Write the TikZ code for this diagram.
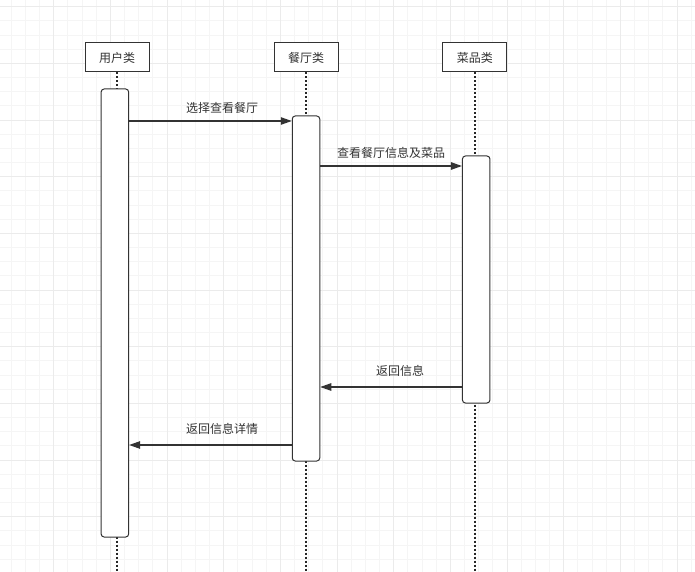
\documentclass[tikz,border=0pt]{standalone}
\usepackage{fontspec}
\setmainfont{Noto Sans CJK SC}
\usetikzlibrary{arrows.meta}
\definecolor{ink}{HTML}{333333}
\definecolor{gridminor}{HTML}{F5F5F5}
\definecolor{gridmajor}{HTML}{EBEBEB}
\tikzset{
  header/.style={draw=ink, line width=1pt, fill=white, rectangle, minimum width=64pt, minimum height=29pt, inner sep=0pt, font=\fontsize{12}{14}\selectfont, text=ink},
  actbar/.style={draw=ink, line width=1pt, fill=white, rectangle, rounded corners=3pt, minimum width=27.5pt, inner sep=0pt},
  lifeline/.style={draw=black!85, line width=1.6pt, dash pattern=on 2pt off 2pt},
  msg/.style={draw=ink, line width=1.1pt, -{Triangle[length=11pt,width=7.5pt]}},
  msglabel/.style={font=\fontsize{12}{14}\selectfont, text=ink, inner sep=0pt},
}
\begin{document}
\begin{tikzpicture}[x=1pt,y=-1pt]
\useasboundingbox (0,0) rectangle (695,572);
\fill[white] (0,0) rectangle (695,572);
% grid
\foreach \i in {0,...,48} {
  \draw[gridminor, line width=1pt] ({11.3+14.167*\i},0) -- ({11.3+14.167*\i},572);
}
\foreach \i in {0,...,40} {
  \draw[gridminor, line width=1pt] (0,{6.67+14.167*\i}) -- (695,{6.67+14.167*\i});
}
\foreach \i in {0,...,12} {
  \draw[gridmajor, line width=1pt] ({53.8+56.667*\i},0) -- ({53.8+56.667*\i},572);
}
\foreach \i in {0,...,10} {
  \draw[gridmajor, line width=1pt] (0,{6.67+56.667*\i}) -- (695,{6.67+56.667*\i});
}
% headers
\node[header] (u) at (117,57.5) {用户类};
\node[header] (r) at (306,57.5) {餐厅类};
\node[header] (d) at (474.9,57.5) {菜品类};
% lifeline ends
\coordinate (uend) at (117,572);
\coordinate (rend) at (306,572);
\coordinate (dend) at (474.9,572);
\draw[lifeline] (u.south) -- (uend);
\draw[lifeline] (r.south) -- (rend);
\draw[lifeline] (d.south) -- (dend);
% activation bars
\node[actbar, minimum height=448pt] (ubar) at (114.9,313) {};
\node[actbar, minimum height=345pt] (rbar) at (306,288.5) {};
\node[actbar, minimum height=247pt] (dbar) at (476.2,279.5) {};
% message rows
\coordinate (m1) at (0,121);
\coordinate (m2) at (0,166);
\coordinate (m3) at (0,387);
\coordinate (m4) at (0,445);
\draw[msg] (ubar.east |- m1) -- (rbar.west |- m1);
\draw[msg] (rbar.east |- m2) -- (dbar.west |- m2);
\draw[msg] (dbar.west |- m3) -- (rbar.east |- m3);
\draw[msg] (rbar.west |- m4) -- (ubar.east |- m4);
% labels
\node[msglabel] (l1) at (222,108) {选择查看餐厅};
\node[msglabel] (l2) at (391,153) {查看餐厅信息及菜品};
\node[msglabel] (l3) at (400,371) {返回信息};
\node[msglabel] (l4) at (222,429) {返回信息详情};
\end{tikzpicture}
\end{document}
